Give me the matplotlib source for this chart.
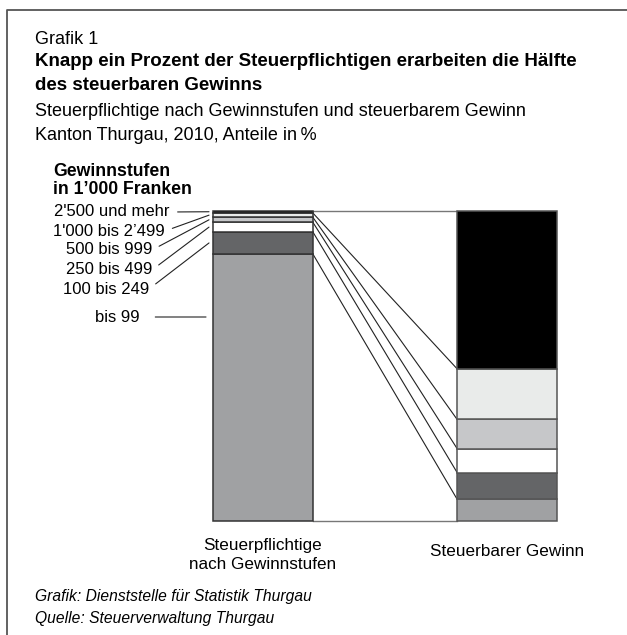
import matplotlib
matplotlib.use("Agg")
import matplotlib.pyplot as plt
import numpy as np

# ---- data (bottom to top) ----
categories = ["bis 99", "100 bis 249", "250 bis 499", "500 bis 999", "1'000 bis 2\u2019499", "2'500 und mehr"]
steuerpflichtige = [86.0, 7.1, 3.1, 1.6, 1.4, 0.8]
steuerbarer_gewinn = [7.0, 8.6, 7.7, 9.4, 16.3, 51.0]
bar_labels = ["Steuerpflichtige\nnach Gewinnstufen", "Steuerbarer Gewinn"]
colors = ["#a0a1a3", "#646567", "#ffffff", "#c6c7c9", "#e9ebea", "#000000"]

W, H = 627, 635
fig = plt.figure(figsize=(W / 100, H / 100), dpi=100)
renderer = fig.canvas.get_renderer()

def fit(t, width):
    w = t.get_window_extent(renderer).width
    t.set_fontsize(t.get_fontsize() * width / w)
    return t.get_fontsize()

# overlay axes in pixel coordinates
ov = fig.add_axes([0, 0, 1, 1])
ov.set_xlim(0, W)
ov.set_ylim(H, 0)
ov.axis("off")

FONT = ["Liberation Sans", "DejaVu Sans"]

# frame (top and left)
ov.plot([7, 7, W], [H, 10, 10], color="#555555", lw=1.3, solid_capstyle="butt")

t1 = ov.text(35, 62, "Knapp ein Prozent der Steuerpflichtigen erarbeiten die Hälfte",
             family=FONT, fontsize=13, weight="bold", va="center", ha="left")
fs = fit(t1, 542)
ov.text(35, 86, "des steuerbaren Gewinns", family=FONT, fontsize=fs,
        weight="bold", va="center", ha="left")
s1 = ov.text(35, 112, "Steuerpflichtige nach Gewinnstufen und steuerbarem Gewinn",
             family=FONT, fontsize=13, va="center", ha="left")
fs = fit(s1, 488)
ov.text(35, 136, "Kanton Thurgau, 2010, Anteile in\u2009%", family=FONT,
        fontsize=fs, va="center", ha="left")
ov.text(35, 40, "Grafik 1", family=FONT, fontsize=fs, va="center", ha="left")

g1 = ov.text(53, 171, "Gewinnstufen", family=FONT, fontsize=10, weight="bold", va="center")
fs = fit(g1, 117)
ov.text(53, 189, "in 1\u2019000 Franken", family=FONT, fontsize=fs, weight="bold", va="center")

f1 = ov.text(35, 596, "Grafik: Dienststelle für Statistik Thurgau", family=FONT,
             fontsize=11, style="italic", va="center")
fs = fit(f1, 275)
ov.text(35, 618, "Quelle: Steuerverwaltung Thurgau", family=FONT,
        fontsize=fs, style="italic", va="center")

# bar axes: pixel box x 213..557, y 210.5..521
x0, x1 = 213, 557
y0, y1 = 210.5, 521
ax = fig.add_axes([x0 / W, 1 - y1 / H, (x1 - x0) / W, (y1 - y0) / H])
bw = 100 / 244.5
ax.set_xlim(-bw / 2, 1 + bw / 2)
ax.set_ylim(0, 100)
ax.axis("off")

left_bottom = np.concatenate([[0], np.cumsum(steuerpflichtige)[:-1]])
right_bottom = np.concatenate([[0], np.cumsum(steuerbarer_gewinn)[:-1]])
ax.bar([0] * len(categories), steuerpflichtige, bottom=left_bottom, width=bw,
       color=colors, edgecolor="#333333", linewidth=1.1, clip_on=False)
ax.bar([1] * len(categories), steuerbarer_gewinn, bottom=right_bottom, width=bw,
       color=colors, edgecolor="#555555", linewidth=1.1, clip_on=False)

# connectors
lc = np.concatenate([[0], np.cumsum(steuerpflichtige)])
rc = np.concatenate([[0], np.cumsum(steuerbarer_gewinn)])
rc = rc / rc[-1] * 100
lc = lc / lc[-1] * 100
for i, (a, b) in enumerate(zip(lc, rc)):
    outer = i == 0 or i == len(lc) - 1
    ax.plot([bw / 2, 1 - bw / 2], [a, b], color="#777777" if outer else "#222222",
            lw=1.0 if outer else 0.8, clip_on=False, zorder=0)

b1 = ax.text(0, -5.5, bar_labels[0], ha="center", va="top", family=FONT, fontsize=11,
             linespacing=1.3)
fit(b1, 147)
b2 = ax.text(1, -7.3, bar_labels[1], ha="center", va="top", family=FONT, fontsize=11)
b2.set_fontsize(b1.get_fontsize())

# category labels on the left
label_pos = {  # (x_right, y) in pixels
    "2'500 und mehr": (170, 212),
    "1'000 bis 2\u2019499": (165, 231),
    "500 bis 999": (152, 250),
    "250 bis 499": (152, 270),
    "100 bis 249": (149, 289),
    "bis 99": (140, 317),
}
probe = ov.text(0, 0, "2'500 und mehr", family=FONT, fontsize=11)
lab_fs = fit(probe, 115)
probe.remove()

mids = left_bottom + np.array(steuerpflichtige) / 2
px = 1 / 244.5
for cat, mid in zip(categories, mids):
    tx, ty = label_pos[cat]
    if cat == "bis 99":
        ypt = (y1 - ty) / (y1 - y0) * 100
        xy = (-bw / 2 - 7 * px, ypt)
        shrink = 9
    else:
        xy = (-bw / 2 - 4 * px, mid)
        shrink = 3.5
    ax.annotate(cat, xy=xy, xycoords="data", xytext=(tx, ty),
                textcoords=ov.transData, ha="right", va="center",
                family=FONT, fontsize=lab_fs,
                arrowprops=dict(arrowstyle="-", lw=0.8, color="#222222",
                                shrinkA=shrink, shrinkB=0, relpos=(1.0, 0.5)),
                annotation_clip=False)

fig.savefig("out.png", dpi=100)
